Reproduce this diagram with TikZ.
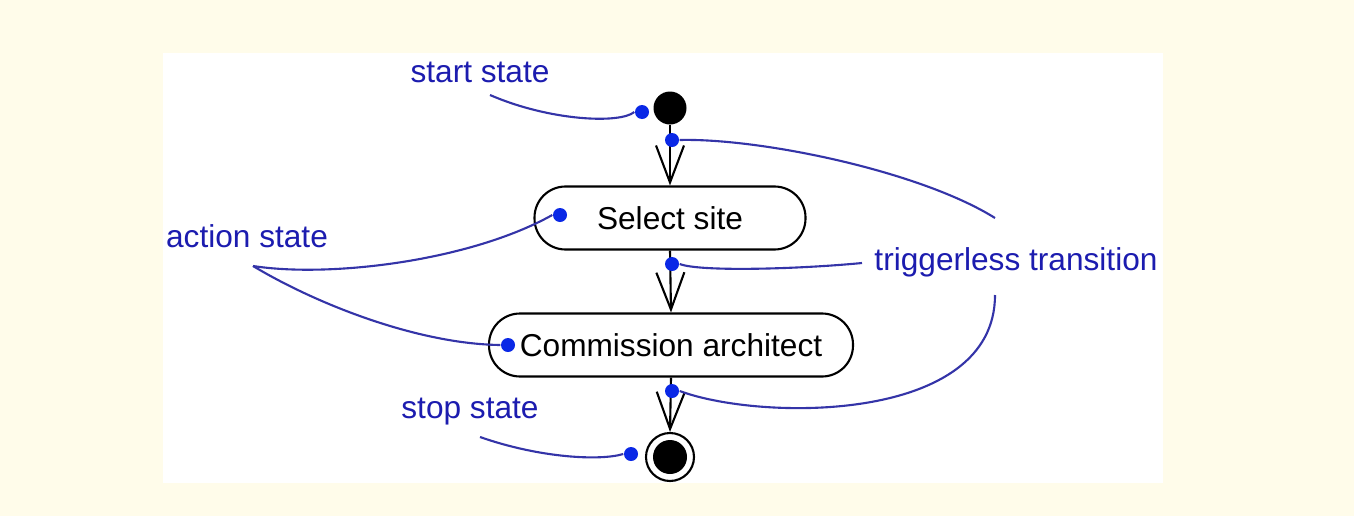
\documentclass[tikz,border=0pt]{standalone}
\usepackage{fontspec}
\setmainfont{Liberation Sans}
\usepackage{tikz}
\usetikzlibrary{arrows.meta,calc,positioning}
\definecolor{cream}{RGB}{255,252,234}
\definecolor{notetext}{RGB}{28,28,175}
\definecolor{noteline}{RGB}{52,52,168}
\definecolor{notedot}{RGB}{10,40,230}
\tikzset{
  astate/.style={draw=black,line width=0.6pt,rounded corners=0.31cm,minimum height=0.63cm,inner sep=0pt,font=\fontsize{9pt}{11pt}\selectfont},
  trans/.style={draw=black,line width=0.6pt,-{Straight Barb[length=3.7mm,width=2.8mm,line width=0.6pt]}},
  blob/.style={circle,fill=notedot,inner sep=0pt,minimum size=0.14cm},
  note/.style={text=notetext,inner sep=1pt,font=\fontsize{9pt}{11pt}\selectfont},
  lead/.style={draw=noteline,line width=0.6pt}
}
\begin{document}
\begin{tikzpicture}
\fill[cream] (0,0) rectangle (13.54,5.16);
\fill[white] (1.63,0.33) rectangle (11.63,4.63);

% states
\node[circle,fill=black,inner sep=0pt,minimum size=0.33cm] (start) at (6.70,4.08) {};
\node[astate,minimum width=2.71cm] (site) at (6.70,2.98) {Select site};
\node[astate,minimum width=3.64cm] (arch) at (6.71,1.71) {Commission architect};
\node[circle,draw=black,line width=0.6pt,inner sep=0pt,minimum size=0.48cm] (stop) at (6.70,0.59) {};
\fill[black] (stop.center) circle (0.17cm);

% transitions
\draw[trans] (start.south) -- (site.north);
\draw[trans] (site.south) -- (arch.north);
\draw[trans] (arch.south) -- (stop.north);

% notes
\node[note] (nstart) at (4.80,4.44) {start state};
\node[note] (naction) at (2.47,2.80) {action state};
\node[note] (ntrig) at (10.16,2.54) {triggerless transition};
\node[note] (nstop) at (4.70,1.04) {stop state};

\coordinate (cstart) at (4.90,4.21);
\coordinate (caction) at (2.53,2.50);
\coordinate (ctrigA) at (9.95,2.98);
\coordinate (ctrigB) at (8.62,2.53);
\coordinate (ctrigC) at (9.95,2.21);
\coordinate (cstop) at (4.80,0.79);

\node[blob] (dstart) at (6.42,4.04) {};
\node[blob] (dtA) at (6.72,3.76) {};
\node[blob] (dsite) at (5.60,3.01) {};
\node[blob] (dtB) at (6.72,2.52) {};
\node[blob] (darch) at (5.08,1.71) {};
\node[blob] (dtC) at (6.72,1.25) {};
\node[blob] (dstop) at (6.31,0.62) {};

\draw[lead] (cstart) .. controls (5.5,3.95) and (6.2,3.92) .. (dstart.west);
\draw[lead] (caction) .. controls (3.3,2.38) and (4.7,2.55) .. (dsite.west);
\draw[lead] (caction) .. controls (3.2,2.1) and (4.2,1.72) .. (darch.west);
\draw[lead] (ctrigA) .. controls (9.2,3.45) and (7.6,3.78) .. (dtA.east);
\draw[lead] (ctrigB) .. controls (8.0,2.47) and (7.0,2.44) .. (dtB.east);
\draw[lead] (ctrigC) .. controls (9.95,0.92) and (7.6,0.95) .. (dtC.east);
\draw[lead] (cstop) .. controls (5.4,0.58) and (6.0,0.55) .. (dstop.west);
\end{tikzpicture}
\end{document}
